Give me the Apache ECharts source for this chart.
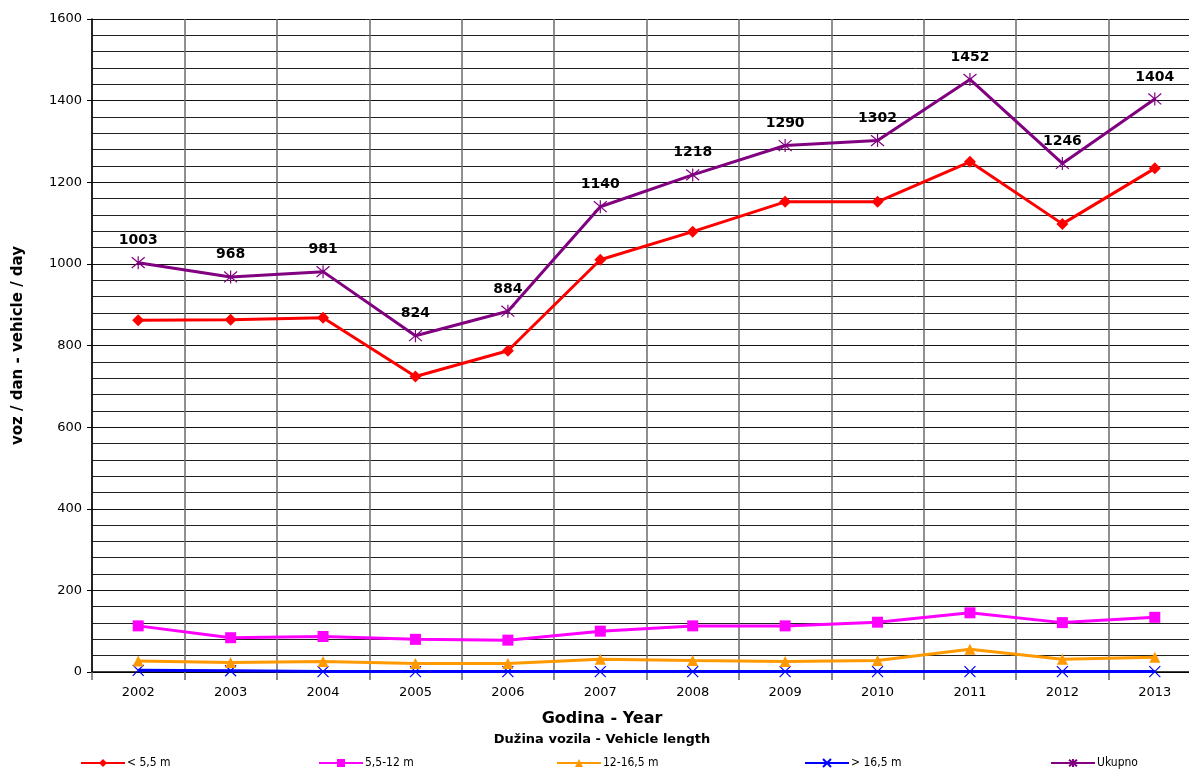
<!DOCTYPE html>
<html>
<head>
<meta charset="utf-8">
<script src="https://cdn.jsdelivr.net/npm/echarts@6/dist/echarts.min.js"></script>
<style>
  html, body { margin: 0; padding: 0; background: #fff; }
  #chart { width: 1189px; height: 770px; }
</style>
</head>
<body>
<div id="chart"></div>
<script>
// Average daily traffic by vehicle length, 2002-2013
const years = ['2002', '2003', '2004', '2005', '2006', '2007', '2008', '2009', '2010', '2011', '2012', '2013'];
const under55 = [862, 863, 868, 724, 787, 1010, 1079, 1152, 1152, 1250, 1098, 1234];
const from55to12 = [113, 84, 87, 80, 78, 100, 113, 113, 122, 145, 121, 134];
const from12to165 = [27, 23, 26, 21, 21, 31, 28, 26, 28, 56, 31, 36];
const over165 = [4, 3, 1, 1, 1, 1, 1, 1, 1, 1, 1, 1];
const total = [1003, 968, 981, 824, 884, 1140, 1218, 1290, 1302, 1452, 1246, 1404];
const seriesNames = ['< 5,5 m', '5,5-12 m', '12-16,5 m', '> 16,5 m', 'Ukupno'];
const yTicks = [0, 200, 400, 600, 800, 1000, 1200, 1400, 1600];

const FONT = '"DejaVu Sans", Verdana, sans-serif';
const crossPath = 'path://M0,0L10,10M10,0L0,10';
const starPath = 'path://M0,0L10,10M10,0L0,10M5,-1L5,11';

function lineSeries(name, data, color, symbol, size, extra) {
  return Object.assign({
    name: name,
    type: 'line',
    data: data,
    symbol: symbol,
    symbolSize: size,
    showAllSymbol: true,
    lineStyle: { color: color, width: 3 },
    itemStyle: { color: color, borderColor: color, borderWidth: 0 },
    emphasis: { disabled: true },
    animation: false
  }, extra || {});
}

const legendLefts = [80, 318, 556, 804, 1050];

const chart = echarts.init(document.getElementById('chart'), null, { renderer: 'canvas' });
chart.setOption({
  backgroundColor: '#ffffff',
  animation: false,
  grid: { left: 92, top: 19, width: 1109, height: 653, containLabel: false, outerBoundsMode: 'none' },
  legend: seriesNames.map((n, i) => ({
    data: [n],
    left: legendLefts[i],
    top: 757,
    itemWidth: 44,
    itemHeight: 10,
    padding: 0,
    selectedMode: false,
    textStyle: { fontFamily: '"Liberation Sans Narrow", "DejaVu Sans Condensed", sans-serif', fontSize: 12, color: '#000', padding: [0, 0, 0, -3] }
  })),
  xAxis: {
    type: 'category',
    data: years,
    boundaryGap: true,
    axisLine: { show: true, lineStyle: { color: '#000', width: 1.5 } },
    axisTick: { show: true, length: 8, lineStyle: { color: '#666', width: 1.5 } },
    axisLabel: { fontFamily: FONT, fontSize: 13, color: '#000', margin: 14 },
    splitLine: { show: true, lineStyle: { color: '#6b6b6b', width: 1.5 } }
  },
  yAxis: {
    type: 'value',
    min: 0,
    max: 1600,
    interval: 200,
    name: 'voz / dan - vehicle / day',
    nameLocation: 'middle',
    nameRotate: 90,
    nameGap: 66,
    nameTextStyle: { fontFamily: FONT, fontSize: 15, fontWeight: 'bold', color: '#000' },
    axisLine: { show: true, lineStyle: { color: '#000', width: 1.5 } },
    axisTick: { show: true, length: 5, lineStyle: { color: '#000' } },
    axisLabel: {
      fontFamily: FONT, fontSize: 13, color: '#000', margin: 10,
      formatter: v => (yTicks.indexOf(v) >= 0 ? String(v) : '')
    },
    splitLine: { show: true, lineStyle: { color: '#111', width: 1 } },
    minorTick: { show: false, splitNumber: 5 },
    minorSplitLine: { show: true, lineStyle: { color: '#222', width: 1 } }
  },
  graphic: [
    {
      type: 'text', x: 602, y: 719,
      style: { text: 'Godina - Year', font: 'bold 16px "DejaVu Sans", sans-serif', fill: '#000', textAlign: 'center', textVerticalAlign: 'middle' }
    },
    {
      type: 'text', x: 602, y: 740,
      style: { text: 'Dužina vozila - Vehicle length', font: 'bold 13px "DejaVu Sans", sans-serif', fill: '#000', textAlign: 'center', textVerticalAlign: 'middle' }
    }
  ],
  series: [
    lineSeries(seriesNames[0], under55, '#ff0000', 'diamond', 12, { z: 4 }),
    lineSeries(seriesNames[1], from55to12, '#ff00ff', 'rect', 11, { z: 3 }),
    lineSeries(seriesNames[2], from12to165, '#ff9900', 'triangle', 11, { z: 2 }),
    lineSeries(seriesNames[3], over165, '#0000ff', crossPath, 11, {
      z: 1,
      itemStyle: { color: '#0000ff', borderColor: '#0000ff', borderWidth: 1.2 }
    }),
    lineSeries(seriesNames[4], total, '#800080', starPath, 13, {
      z: 5,
      itemStyle: { color: '#800080', borderColor: '#800080', borderWidth: 1.2 },
      label: {
        show: true, position: 'top', distance: 8,
        fontFamily: FONT, fontSize: 14, fontWeight: 'bold', color: '#000'
      }
    })
  ]
});
</script>
</body>
</html>
